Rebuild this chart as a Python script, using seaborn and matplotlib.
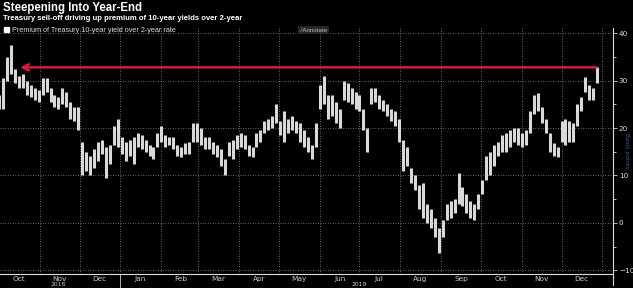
import matplotlib
matplotlib.use("Agg")
import matplotlib.pyplot as plt
import matplotlib.dates as mdates
import matplotlib.transforms as mtransforms
from matplotlib.patches import Patch
from matplotlib import font_manager
import seaborn as sns
import pandas as pd

# ---- data (basis points), one bar every 3 calendar days from 2018-10-01 ----
start_date = "2018-10-01"
bar_step = "3D"
lows = [24, 24, 30, 31.5, 29.5, 28.5, 28.5, 27, 26.5, 26, 25.5, 27, 27.5, 25.5, 24.5, 24,
        25, 24.5, 22, 21.5, 19.5, 10, 11, 10, 11.5, 13, 14.5, 9.5, 12.5, 16.5, 16, 14.5,
        13, 14, 12.5, 16, 15.5, 15, 14, 13.5, 16, 17, 16, 16.5, 15.5, 14, 13.8, 14.5,
        14.5, 17, 17, 16.5, 15.5, 15.5, 14.5, 13.8, 12, 10, 14, 13.5, 15.5, 16, 15.5, 14,
        13.8, 16, 17, 19, 19.5, 20, 21, 18.5, 17, 19, 19.5, 19, 17, 16, 15, 13.5,
        16, 24, 25, 22, 22.5, 21, 20, 26, 25.5, 25, 24, 23.5, 19.5, 15, 25, 25.5,
        24, 23.5, 22.5, 21.5, 20.5, 17, 11, 12, 8.5, 7, 3, 1, 0, -1, -3, -6.4,
        -3, 0.5, 1, 2, 4, 3.5, 2, 1, 0.5, 3, 6, 9, 10, 12, 14, 15,
        15, 16, 17, 16.5, 16, 16.5, 19, 23, 23.5, 21, 19, 15, 14, 13.8, 17, 16.5,
        17, 17, 20.5, 23.5, 27.5, 26, 26, 29.5]
highs = [27, 30.5, 35, 37.5, 32.5, 31, 31.5, 30, 29, 28.5, 28, 30.5, 30.5, 28.5, 27, 26.5,
         28.5, 27.5, 25.5, 24.5, 24.5, 17, 15, 14, 15.5, 17, 17.5, 16, 16.5, 20.5, 22, 18,
         17, 17.5, 18, 19, 18.5, 17.5, 16.5, 16, 19, 20.5, 18.5, 18, 18, 16.5, 16, 16.8,
         17, 21, 21, 20, 18, 18, 17, 16.5, 15.5, 13.5, 17, 17.5, 18.5, 19, 18.5, 16.5,
         16, 19, 19.5, 21.5, 22, 22.5, 25, 21.5, 23.5, 22, 22.5, 21.5, 21, 19.5, 18, 16.5,
         21, 29, 31, 27, 27, 25.5, 24, 30, 29.5, 28.5, 27.5, 27, 24, 20, 28.5, 28.5,
         27, 26, 25, 24, 23.5, 22, 17.5, 16, 11.5, 10, 8, 8.5, 4, 3, 1, -1,
         0.5, 4, 4.5, 5, 10.5, 7.5, 6, 4.5, 4, 6, 9, 14, 15, 16.5, 17, 18.5,
         19, 19.5, 20, 20, 19, 19.5, 23.5, 27, 27.3, 24.5, 22, 19, 16.8, 16, 21.5, 22,
         21.5, 21, 25, 26.5, 30.8, 29, 28.5, 32.8]
arrow_tip_date = "2018-10-17"

title = "Steepening Into Year-End"
subtitle = "Treasury sell-off driving up premium of 10-year yields over 2-year"
legend_label = "Premium of Treasury 10-year yield over 2-year rate"
y_ticks = [-10, 0, 10, 20, 30, 40]
year_labels = [("2018", "2018-11-15"), ("2019", "2019-07-01")]

# ---- build long table for seaborn: each date -> vertical segment low..high ----
dates = pd.date_range(start_date, periods=len(lows), freq=bar_step)
df = pd.DataFrame({
    "date": list(dates) + list(dates),
    "value": lows + highs,
})
df["unit"] = df["date"].astype("int64")

sns.set_theme(style="dark")
plt.rcParams["font.family"] = ["DejaVu Sans"]

installed = {f.name for f in font_manager.fontManager.ttflist}
narrow = "Liberation Sans Narrow" if "Liberation Sans Narrow" in installed else "Liberation Sans"

W, H = 633, 288
fig = plt.figure(figsize=(W / 100, H / 100), dpi=100, facecolor="black")
ax_left, ax_right, ax_top, ax_bot = 0, 613, 28, 274
ax = fig.add_axes([ax_left / W, 1 - ax_bot / H, (ax_right - ax_left) / W, (ax_bot - ax_top) / H])
ax.set_facecolor("black")

grid_kw = dict(color="#8a8a8a", lw=0.6, ls=(0, (1, 2)), zorder=0)
for yv in y_ticks:
    ax.axhline(yv, **grid_kw)
for m in pd.date_range("2018-11-01", "2020-01-01", freq="MS"):
    ax.axvline(m, **grid_kw)

sns.lineplot(data=df, x="date", y="value", units="unit", estimator=None,
             sort=False, color="#d9d9d9", lw=2.2, ax=ax, legend=False, zorder=3,
             solid_capstyle="butt")

# red arrow at latest high
ax.annotate("", xy=(pd.Timestamp(arrow_tip_date), highs[-1]),
            xytext=(dates[-1], highs[-1]),
            arrowprops=dict(arrowstyle="->", color="#e5173f", lw=1.7,
                            mutation_scale=11, shrinkA=0, shrinkB=0),
            zorder=5)

ax.set_xlim(pd.Timestamp("2018-10-01 18:00"), pd.Timestamp("2020-01-09"))
ax.set_ylim(-10.8, 41.1)

# y axis on right
ax.yaxis.tick_right()
ax.set_yticks(y_ticks)
ax.set_yticks([-5, 5, 15, 25, 35], minor=True)
ax.tick_params(axis="y", which="major", colors="#dddddd", labelsize=5.2, length=3,
               width=0.6, direction="out", pad=1.2, right=True, left=False)
ax.tick_params(axis="y", which="minor", colors="#dddddd", length=2, width=0.6,
               right=True, left=False)
ax.yaxis.set_label_position("right")
ax.set_ylabel("Basis points", color="#2f5fa8", fontsize=4.2, rotation=270, va="center")
ax.yaxis.set_label_coords(627 / 613, 0.50)

# x axis: ticks at month starts, labels mid-month
ax.xaxis.set_major_locator(mdates.MonthLocator())
ax.xaxis.set_major_formatter(plt.NullFormatter())
ax.xaxis.set_minor_locator(mdates.MonthLocator(bymonthday=16))
ax.xaxis.set_minor_formatter(mdates.DateFormatter("%b"))
ax.tick_params(axis="x", which="major", colors="#cccccc", length=3, width=0.6, direction="out")
ax.tick_params(axis="x", which="minor", colors="#cccccc", length=0, labelsize=5.3, pad=1.5)
ax.set_xlabel("")
ax.grid(False)

for side in ["left", "top"]:
    ax.spines[side].set_visible(False)
for side in ["right", "bottom"]:
    ax.spines[side].set_visible(True)
    ax.spines[side].set_color("#dcdcdc")
    ax.spines[side].set_linewidth(0.8)

# year separator and year labels below axis
trans = mtransforms.blended_transform_factory(ax.transData, ax.transAxes)
ax.plot([pd.Timestamp("2019-01-01")] * 2, [0, -0.06], color="#cccccc", lw=0.6,
        transform=trans, clip_on=False)
ax.plot([1, 1], [0, -0.045], color="#dcdcdc", lw=0.8, transform=ax.transAxes, clip_on=False)
trans_fig = mtransforms.blended_transform_factory(ax.transData, fig.transFigure)
for lab, d in year_labels:
    ax.text(pd.Timestamp(d), 0.5 / H, lab, transform=trans_fig, ha="center", va="bottom",
            fontsize=4.3, color="#cccccc", clip_on=False)

# titles
fig.text(3 / W, 1 - 2 / H, title, color="white", fontsize=8.3, fontweight="bold",
         va="top", ha="left", family=[narrow, "DejaVu Sans"])
fig.text(3 / W, 1 - 14.5 / H, subtitle, color="white", fontsize=5.6, fontweight="bold",
         va="top", ha="left", family=[narrow, "DejaVu Sans"])

# legend
leg = fig.legend(handles=[Patch(facecolor="white", edgecolor="white", label=legend_label)],
                 loc="upper left", bbox_to_anchor=(4 / W, 1 - 27 / H), frameon=False,
                 handlelength=0.7, handleheight=0.7, handletextpad=0.4,
                 borderaxespad=0, borderpad=0, prop={"family": [narrow, "DejaVu Sans"], "size": 5.2})
for t in leg.get_texts():
    t.set_color("#dddddd")

# annotate button
fig.text(300 / W, 1 - 30 / H, "\u2215 Annotate", color="#bbbbbb", fontsize=4.5, va="center", ha="left",
         family=[narrow, "DejaVu Sans"],
         bbox=dict(boxstyle="square,pad=0.3", facecolor="#262626", edgecolor="none"))

fig.savefig("out.png", dpi=100, facecolor="black")
